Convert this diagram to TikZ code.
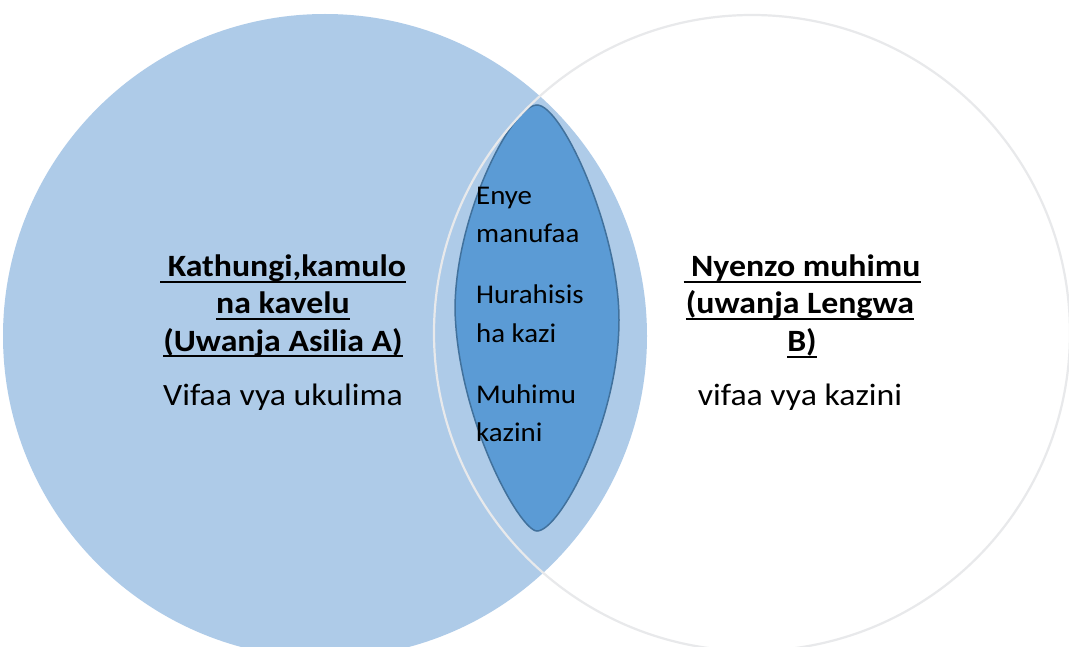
\documentclass[tikz,border=0pt]{standalone}
\usepackage{fontspec}
\setmainfont{Carlito}[FakeStretch=1.09]
\newfontfamily\midfont{Carlito}[FakeStretch=1.07]
\definecolor{lightblue}{RGB}{174,203,232}
\definecolor{lensblue}{RGB}{91,155,213}
\definecolor{lensedge}{RGB}{65,113,156}
\definecolor{ringgray}{RGB}{232,233,235}
\newcommand\myul[1]{\setbox0\hbox{#1}\rlap{\rule[-6pt]{\wd0}{1.8pt}}\box0}
\tikzset{
  bigtxt/.style={inner sep=0pt, anchor=base, font=\fontsize{31}{36}\selectfont},
  midtxt/.style={inner sep=0pt, anchor=base west, font=\midfont\fontsize{27}{30}\selectfont},
}
\begin{document}
\begin{tikzpicture}[x=1pt,y=-1pt]
\useasboundingbox (0,0) rectangle (1069,647);
\clip (0,0) rectangle (1069,647);
\fill[white] (0,0) rectangle (1069,647);
% left circle
\fill[lightblue] (325,336) circle [radius=322pt];
% lens
\path[fill=lensblue, draw=lensedge, line width=1.5pt]
  (537,105) .. controls (562,105) and (619,230) .. (619,320)
  .. controls (619,420) and (560,531) .. (537,531)
  .. controls (520,531) and (458,420) .. (455,310)
  .. controls (455,215) and (512,105) .. (537,105) -- cycle;
% right circle
\draw[ringgray, line width=2.2pt] (752,333) circle [radius=318pt];
% left texts
\node[bigtxt] (a1) at (283,277) {\bfseries\myul{\ Kathungi,kamulo}};
\node[bigtxt] (a2) at (283,314) {\bfseries\myul{na kavelu}};
\node[bigtxt] (a3) at (283,351) {\bfseries\myul{(Uwanja Asilia A)}};
\node[bigtxt] (a4) at (283,405) {Vifaa vya ukulima};
% right texts
\node[bigtxt] (b1) at (802,277) {\bfseries\myul{\ Nyenzo muhimu}};
\node[bigtxt] (b2) at (800,314) {\bfseries\myul{(uwanja Lengwa}};
\node[bigtxt] (b3) at (802,352) {\bfseries\myul{B)}};
\node[bigtxt] (b4) at (800,405) {vifaa vya kazini};
% middle texts
\node[midtxt] (c1) at (476,205) {Enye};
\node[midtxt] (c2) at (476,243) {manufaa};
\node[midtxt] (c3) at (476,304) {Hurahisis};
\node[midtxt] (c4) at (476,342) {ha kazi};
\node[midtxt] (c5) at (476,403) {Muhimu};
\node[midtxt] (c6) at (476,441) {kazini};
\end{tikzpicture}
\end{document}
